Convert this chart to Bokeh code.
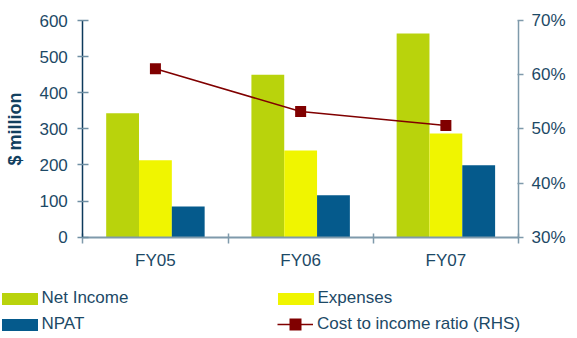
import numpy as np
from bokeh.plotting import figure
from bokeh.models import (Range1d, LinearAxis, FixedTicker, NumeralTickFormatter,
                          Legend, LegendItem)
from bokeh.embed import file_html
from bokeh.resources import INLINE

categories = ["FY05", "FY06", "FY07"]
net_income = [343, 450, 564]
expenses = [213, 240, 287]
npat = [85, 116, 199]
cost_income_ratio = [0.611, 0.532, 0.506]

FONT = "Liberation Sans"
TEXT = "#1c4966"
GREEN = "#b9d30c"
YELLOW = "#f0f500"
BLUE = "#055a8c"
RED = "#800000"
GREY = "#7f9aab"

# frame covers the whole canvas; axes are pinned inside it
p = figure(width=577, height=338, output_backend="svg", toolbar_location=None,
           x_range=Range1d(-0.5667, 3.4063), y_range=Range1d(-280.5, 655.4),
           min_border=0, min_border_left=0, min_border_right=0,
           min_border_top=0, min_border_bottom=0,
           x_axis_type=None, y_axis_type=None)
p.outline_line_color = None
p.xgrid.visible = False
p.ygrid.visible = False
p.extra_y_ranges = {"ratio": Range1d(0.1130, 0.7369)}

xc = np.arange(len(categories)) + 0.5
w = 0.226
r_ni = p.vbar(x=xc - w, top=net_income, width=w, color=GREEN, line_color=None)
r_ex = p.vbar(x=xc, top=expenses, width=w, color=YELLOW, line_color=None)
r_np = p.vbar(x=xc + w, top=npat, width=w, color=BLUE, line_color=None)
r_line = p.line(x=xc, y=cost_income_ratio, y_range_name="ratio", line_color=RED, line_width=1.5)
r_mk = p.scatter(x=xc, y=cost_income_ratio, y_range_name="ratio", marker="square",
                 size=11, fill_color=RED, line_color=None)

# bottom axis
xaxis = LinearAxis(ticker=FixedTicker(ticks=list(xc), minor_ticks=[0, 1, 2, 3]),
                   major_label_overrides={float(x): c for x, c in zip(xc, categories)},
                   fixed_location=0, bounds=(0, len(categories)))
xaxis.axis_line_color = GREY
xaxis.axis_line_width = 2
xaxis.major_tick_line_color = None
xaxis.major_tick_in = 0
xaxis.major_tick_out = 0
xaxis.minor_tick_line_color = GREY
xaxis.minor_tick_line_width = 1.5
xaxis.minor_tick_in = 4
xaxis.minor_tick_out = 6
xaxis.major_label_standoff = 8
xaxis.major_label_text_font = FONT
xaxis.major_label_text_font_size = "17px"
xaxis.major_label_text_color = TEXT
p.add_layout(xaxis, "below")

# left axis
yaxis = LinearAxis(ticker=FixedTicker(ticks=[0, 100, 200, 300, 400, 500, 600]),
                   axis_label="$ million", fixed_location=0, bounds=(0, 600))
yaxis.axis_line_color = "#0d3a5c"
yaxis.axis_line_width = 1.5
yaxis.major_tick_line_color = "#6f8fa3"
yaxis.major_tick_line_width = 1.5
yaxis.major_tick_in = 6
yaxis.major_tick_out = 5
yaxis.minor_tick_line_color = None
yaxis.major_label_standoff = 10
yaxis.major_label_text_font = FONT
yaxis.major_label_text_font_size = "17px"
yaxis.major_label_text_color = TEXT
yaxis.axis_label_text_font = FONT
yaxis.axis_label_text_font_size = "18px"
yaxis.axis_label_text_font_style = "bold"
yaxis.axis_label_text_color = "#12405f"
yaxis.axis_label_standoff = 11
p.add_layout(yaxis, "left")

# right axis
raxis = LinearAxis(y_range_name="ratio",
                   ticker=FixedTicker(ticks=[0.3, 0.4, 0.5, 0.6, 0.7]),
                   formatter=NumeralTickFormatter(format="0%"),
                   fixed_location=len(categories), bounds=(0.3, 0.7))
raxis.axis_line_color = GREY
raxis.axis_line_width = 1.5
raxis.major_tick_line_color = GREY
raxis.major_tick_line_width = 1.5
raxis.major_tick_in = 1
raxis.major_tick_out = 5
raxis.minor_tick_line_color = None
raxis.major_label_standoff = 8
raxis.major_label_text_font = FONT
raxis.major_label_text_font_size = "17px"
raxis.major_label_text_color = TEXT
p.add_layout(raxis, "right")

def make_legend(items, loc, gw=45, gh=15, standoff=0):
    return Legend(items=items, location=loc, orientation="vertical",
                  padding=0, margin=0, spacing=6, glyph_width=gw, glyph_height=gh,
                  label_height=15, label_standoff=standoff, border_line_color=None,
                  background_fill_alpha=0, label_text_font=FONT,
                  label_text_font_size="17px", label_text_color=TEXT)

leg1 = make_legend([LegendItem(label="Net Income", renderers=[r_ni]),
                    LegendItem(label="NPAT", renderers=[r_np])], (-3.5, 4))
leg2 = make_legend([LegendItem(label="Expenses", renderers=[r_ex])], (272.5, 30))
leg3 = make_legend([LegendItem(label="Cost to income ratio (RHS)", renderers=[r_line, r_mk])],
                   (277, -1), gw=36, gh=30, standoff=4)
p.add_layout(leg1)
p.add_layout(leg2)
p.add_layout(leg3)

open("out.html", "w").write(file_html(p, INLINE))
